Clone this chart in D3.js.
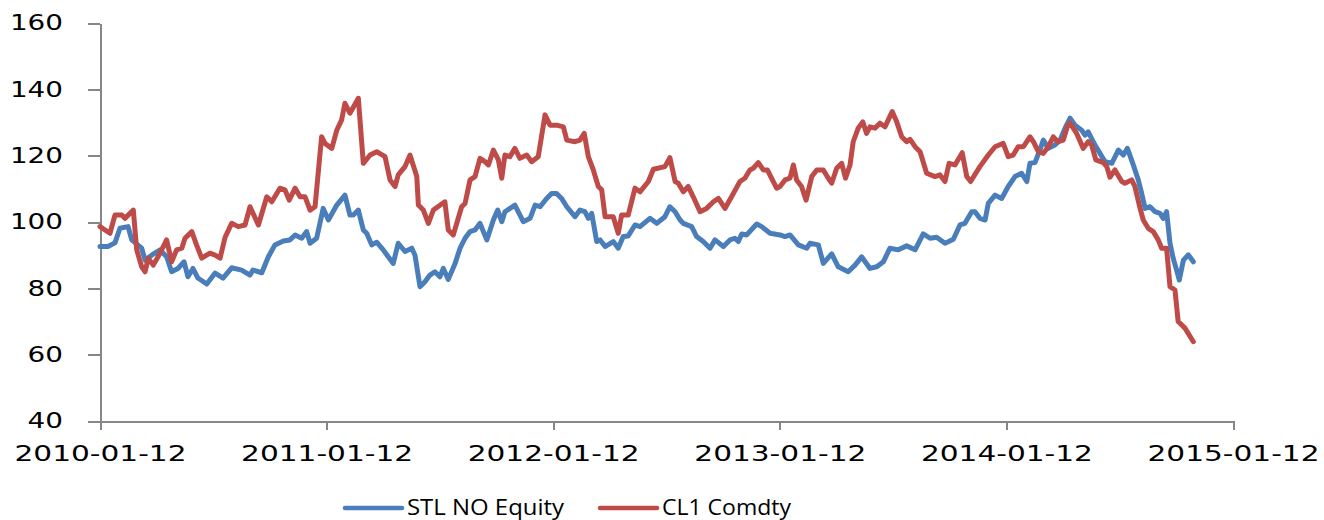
<!DOCTYPE html>
<html>
<head>
<meta charset="utf-8">
<script src="https://cdn.jsdelivr.net/npm/d3@7"></script>
<style>
  body { margin: 0; background: #fff; }
  .axis path, .axis line { stroke: #868686; stroke-width: 2; shape-rendering: crispEdges; }
  .axis text { font-family: "DejaVu Sans", Verdana, sans-serif; font-size: 21px; fill: #000; }
  .legend text { font-family: "Open Sans", "Liberation Sans", sans-serif; font-size: 21px; fill: #000; }
</style>
</head>
<body>
<script>
// Width and Height of the whole chart
var width = 1324;
var height = 520;

// tick labels (x is measured in years since 2010-01-12)
var xTickYears = [0, 1, 2, 3, 4, 5];
var xTickLabels = ["2010-01-12", "2011-01-12", "2012-01-12", "2013-01-12", "2014-01-12", "2015-01-12"];
var yTicks = [40, 60, 80, 100, 120, 140, 160];

var seriesNames = ["STL NO Equity", "CL1 Comdty"];

// STL NO Equity
var stlYears = [0.000,0.035,0.066,0.088,0.124,0.140,0.184,0.199,0.228,0.265,0.294,0.316,0.344,0.371,0.388,0.410,0.432,0.471,0.508,0.543,
  0.581,0.625,0.662,0.675,0.714,0.743,0.772,0.809,0.838,0.861,0.890,0.912,0.927,0.956,0.985,1.008,1.045,1.081,1.103,1.118,
  1.140,1.162,1.177,1.199,1.221,1.250,1.272,1.294,1.316,1.346,1.376,1.390,1.412,1.434,1.456,1.478,1.500,1.515,1.537,1.567,
  1.589,1.611,1.633,1.655,1.677,1.707,1.736,1.755,1.773,1.787,1.831,1.868,1.898,1.920,1.942,1.971,1.993,2.015,2.037,2.060,
  2.096,2.118,2.140,2.155,2.170,2.192,2.207,2.229,2.265,2.287,2.309,2.331,2.361,2.383,2.427,2.457,2.493,2.515,2.538,2.560,
  2.574,2.611,2.633,2.662,2.692,2.714,2.751,2.780,2.802,2.817,2.832,2.854,2.898,2.920,2.957,3.001,3.023,3.045,3.082,3.119,
  3.133,3.170,3.192,3.229,3.258,3.302,3.332,3.361,3.398,3.428,3.457,3.486,3.523,3.560,3.597,3.633,3.663,3.692,3.729,3.766,
  3.795,3.817,3.847,3.861,3.883,3.906,3.920,3.950,3.979,4.008,4.038,4.067,4.090,4.104,4.126,4.145,4.163,4.185,4.214,4.237,
  4.259,4.281,4.303,4.332,4.347,4.361,4.391,4.413,4.435,4.465,4.494,4.516,4.534,4.560,4.582,4.597,4.612,4.634,4.656,4.678,
  4.692,4.707,4.722,4.736,4.751,4.763,4.781,4.803,4.825];
var stlValues = [92.6,92.6,93.7,98.1,98.6,94.6,92.1,88.5,90.0,91.6,89.5,85.0,86.0,88.0,83.5,86.0,83.1,81.3,84.6,83.1,
  86.2,85.5,84.0,85.5,84.7,89.5,93.1,94.3,94.6,96.1,95.1,97.1,93.6,95.1,104.1,100.6,105.1,108.1,102.1,102.1,
  103.6,97.6,96.6,93.1,93.9,91.6,89.5,87.5,93.6,91.1,92.1,90.0,80.5,82.0,84.0,85.0,83.5,86.0,82.7,87.5,
  92.1,95.1,97.1,97.6,99.6,94.6,100.6,103.6,100.1,103.1,105.1,100.1,101.1,105.1,104.6,107.1,108.6,108.6,107.1,104.6,
  101.6,103.6,103.1,101.1,102.6,94.1,94.6,92.6,94.1,92.1,95.6,95.8,99.1,98.6,101.1,99.6,101.6,104.6,103.1,100.6,
  99.6,98.6,95.6,94.1,92.1,94.6,92.6,94.6,95.1,94.1,96.4,96.1,99.4,98.6,96.6,96.1,95.6,96.1,93.1,92.1,
  93.6,93.1,87.5,90.4,86.5,85.0,87.0,89.5,86.0,86.5,88.0,92.1,91.6,92.8,91.6,96.4,95.1,95.4,93.6,94.8,
  99.1,99.6,103.1,103.1,101.1,100.6,105.6,108.1,107.1,110.7,113.7,114.7,112.2,117.7,117.9,121.2,124.7,122.2,123.2,124.7,
  128.3,131.3,129.2,127.7,126.2,127.2,123.2,120.7,118.2,117.7,121.7,120.2,122.2,117.2,112.7,108.6,104.1,104.6,103.1,102.6,
  101.1,103.1,93.6,89.1,85.5,82.5,88.5,90.1,88.0];

// CL1 Comdty
var cl1Years = [0.000,0.044,0.066,0.096,0.110,0.147,0.162,0.184,0.199,0.213,0.235,0.265,0.294,0.316,0.338,0.361,0.375,0.405,0.426,0.449,
  0.485,0.508,0.530,0.552,0.581,0.610,0.640,0.662,0.699,0.736,0.758,0.794,0.816,0.835,0.861,0.883,0.905,0.927,0.949,0.978,
  0.993,1.023,1.045,1.066,1.081,1.103,1.140,1.162,1.192,1.221,1.258,1.280,1.302,1.316,1.346,1.368,1.398,1.405,1.427,1.449,
  1.471,1.522,1.537,1.559,1.596,1.611,1.633,1.655,1.677,1.699,1.714,1.736,1.758,1.773,1.787,1.809,1.831,1.853,1.883,1.905,
  1.934,1.964,1.986,2.015,2.045,2.060,2.096,2.118,2.137,2.155,2.177,2.199,2.214,2.229,2.265,2.287,2.302,2.331,2.361,2.383,
  2.420,2.442,2.493,2.515,2.538,2.552,2.574,2.596,2.618,2.648,2.677,2.707,2.729,2.758,2.795,2.824,2.846,2.868,2.883,2.905,
  2.927,2.945,2.986,3.001,3.023,3.045,3.060,3.074,3.096,3.116,3.141,3.163,3.192,3.214,3.229,3.251,3.273,3.290,3.310,3.324,
  3.346,3.366,3.383,3.398,3.420,3.442,3.464,3.496,3.516,3.538,3.560,3.575,3.597,3.619,3.648,3.685,3.707,3.729,3.747,3.773,
  3.805,3.825,3.842,3.883,3.920,3.950,3.986,4.008,4.030,4.052,4.075,4.104,4.119,4.141,4.163,4.185,4.207,4.226,4.251,4.271,
  4.281,4.310,4.339,4.361,4.376,4.395,4.428,4.443,4.457,4.479,4.509,4.523,4.553,4.567,4.590,4.604,4.626,4.648,4.670,4.685,
  4.707,4.722,4.744,4.758,4.788,4.825];
var cl1Values = [98.6,96.6,102.1,102.1,101.1,103.6,91.6,86.5,85.0,89.1,87.0,90.6,94.6,88.0,91.6,92.1,95.1,97.1,93.1,89.1,
  90.6,90.0,89.1,95.4,99.6,98.6,99.1,104.6,99.1,107.6,106.1,110.2,109.7,106.6,110.2,107.6,107.6,103.6,104.6,125.7,
  123.7,122.2,127.7,130.7,135.8,132.8,137.3,117.7,120.2,121.2,119.7,112.7,110.7,114.2,116.7,120.2,113.7,105.1,103.6,99.6,
  103.6,106.1,97.6,96.1,104.6,105.6,112.7,113.7,119.2,118.2,117.2,121.7,118.7,113.2,120.2,119.7,122.2,119.2,120.2,118.2,
  119.7,132.3,129.2,129.2,128.7,124.7,124.2,124.7,126.7,119.7,115.7,110.7,109.7,101.6,101.6,96.6,102.1,102.1,110.2,109.1,
  112.2,115.9,116.7,119.4,112.2,111.7,109.1,110.7,107.6,103.1,104.1,106.1,107.1,104.1,108.6,112.2,113.2,115.7,116.2,117.9,
  115.7,115.7,110.2,110.7,112.7,113.2,117.2,112.7,110.7,106.6,113.7,115.7,115.7,113.2,111.7,116.2,117.7,113.2,117.2,124.2,
  128.3,130.2,126.7,128.7,128.3,129.8,128.7,133.3,130.2,125.7,124.2,124.9,122.7,121.2,114.7,113.7,114.2,112.2,117.7,117.2,
  120.9,113.7,112.2,116.7,120.2,122.7,123.7,119.7,120.2,122.7,122.7,125.7,124.2,121.2,120.7,122.7,125.7,124.2,124.7,129.2,
  129.8,126.7,122.2,124.2,123.2,118.7,117.9,116.7,113.5,115.7,112.2,111.7,112.7,110.7,104.1,100.6,98.1,97.1,94.6,92.1,
  92.1,80.5,79.5,70.0,68.0,63.9];

var colors = ["#4A7EBB", "#BE4B48"];

var svg = d3.select("body")
    .append("svg")
    .attr("width", width)
    .attr("height", height);

var x = d3.scaleLinear().domain([0, 5]).range([100, 1233]);
var y = d3.scaleLinear().domain([40, 160]).range([421, 23]);

// y axis, labels stretched wide like the original picture
var yAxis = svg.append("g")
    .attr("class", "axis")
    .attr("transform", "translate(100,0)")
    .call(d3.axisLeft(y).tickValues(yTicks).tickSize(12).tickSizeOuter(0).tickPadding(25));
yAxis.selectAll("text")
    .attr("textLength", function(d) { return String(d).length * 17.7; })
    .attr("lengthAdjust", "spacingAndGlyphs");

// x axis
var xAxis = svg.append("g")
    .attr("class", "axis")
    .attr("transform", "translate(0,421)")
    .call(d3.axisBottom(x).tickValues(xTickYears).tickSize(9).tickSizeOuter(0).tickPadding(16)
      .tickFormat(function(d, i) { return xTickLabels[i]; }));
xAxis.selectAll("text")
    .attr("textLength", 172)
    .attr("lengthAdjust", "spacingAndGlyphs");

var line = d3.line()
    .x(function(d) { return x(d[0]); })
    .y(function(d) { return y(d[1]); });

var series = [
  d3.zip(stlYears, stlValues),
  d3.zip(cl1Years, cl1Values)
];

svg.selectAll(".series")
    .data(series)
    .enter()
    .append("path")
    .attr("class", "series")
    .attr("fill", "none")
    .attr("stroke", function(d, i) { return colors[i]; })
    .attr("stroke-width", 5)
    .attr("stroke-linejoin", "round")
    .attr("stroke-linecap", "round")
    .attr("d", line);

// legend
var legendX = [345, 600];
var legendTextW = [157, 129];
var legend = svg.append("g").attr("class", "legend");
legend.selectAll("line")
    .data(seriesNames)
    .enter()
    .append("line")
    .attr("x1", function(d, i) { return legendX[i]; })
    .attr("x2", function(d, i) { return legendX[i] + 57; })
    .attr("y1", 508)
    .attr("y2", 508)
    .attr("stroke", function(d, i) { return colors[i]; })
    .attr("stroke-width", 4.5)
    .attr("stroke-linecap", "round");
legend.selectAll("text")
    .data(seriesNames)
    .enter()
    .append("text")
    .attr("x", function(d, i) { return legendX[i] + 62; })
    .attr("y", 515)
    .attr("textLength", function(d, i) { return legendTextW[i]; })
    .attr("lengthAdjust", "spacingAndGlyphs")
    .text(function(d) { return d; });
</script>
</body>
</html>
